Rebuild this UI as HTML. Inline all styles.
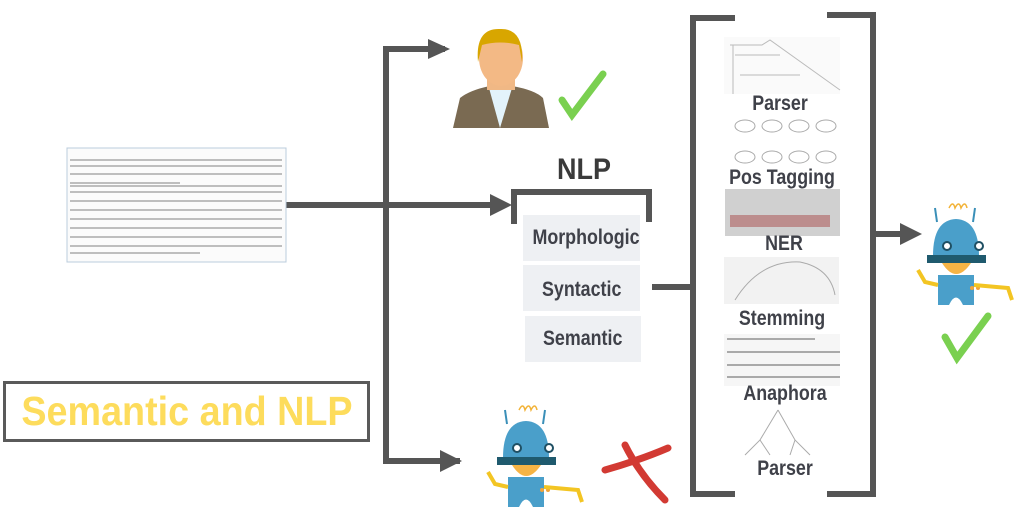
<!DOCTYPE html>
<html><head><meta charset="utf-8"><style>
body{margin:0;width:1024px;height:509px;background:#fff;position:relative;overflow:hidden;font-family:"Liberation Sans",sans-serif}
.t{position:absolute;color:#444;font-family:"Liberation Sans",sans-serif;white-space:nowrap}
.box{position:absolute;background:#eef0f3;color:#3f4149;font-size:21px;text-align:center;font-weight:bold}
.box span{display:inline-block;transform:scaleX(.85)}
.lbl{position:absolute;color:#3f4149;font-size:21px;text-align:center;width:160px;font-weight:bold;transform:scaleX(.85)}
</style></head><body>
<svg width="1024" height="509" style="position:absolute;left:0;top:0">
<g fill="none" stroke="#555" stroke-width="6">
<polyline points="445,49 386,49 386,461 460,461"/>
<line x1="286" y1="205" x2="500" y2="205"/>
<polyline points="514,224 514,192 649,192 649,222"/>
<line x1="652" y1="287" x2="692" y2="287"/>
<polyline points="735,18 693,18 693,494 735,494"/>
<polyline points="827,15 873,15 873,494 827,494"/>
<line x1="873" y1="234" x2="905" y2="234"/>
</g>
<g fill="#555">
<polygon points="428,39 450,49 428,59"/>
<polygon points="490,194 512,205 490,216"/>
<polygon points="440,450 462,461 440,472"/>
<polygon points="900,223 922,234 900,245"/>
</g>
<rect x="67" y="148" width="219" height="114" fill="#fbfbfb" stroke="#bcd" stroke-width="1"/>
<g stroke="#999" stroke-width="1.3">
<line x1="70" y1="160" x2="282" y2="160"/><line x1="70" y1="166" x2="282" y2="166"/>
<line x1="70" y1="174" x2="282" y2="174"/><line x1="70" y1="183" x2="180" y2="183"/>
<line x1="70" y1="186" x2="282" y2="186"/><line x1="70" y1="192" x2="282" y2="192"/>
<line x1="70" y1="201" x2="282" y2="201"/><line x1="70" y1="210" x2="282" y2="210"/>
<line x1="70" y1="219" x2="282" y2="219"/><line x1="70" y1="228" x2="282" y2="228"/>
<line x1="70" y1="237" x2="282" y2="237"/><line x1="70" y1="246" x2="282" y2="246"/>
<line x1="70" y1="253" x2="200" y2="253"/>
</g>
<path d="M453,128 L460,98 Q470,90 490,86 L512,86 Q535,90 543,98 L549,128 Z" fill="#7a6a52"/>
<path d="M489,88 L500,128 L512,88 Z" fill="#e3f3fb"/>
<rect x="487" y="68" width="28" height="22" fill="#f0b885"/>
<ellipse cx="501" cy="58" rx="22" ry="28" fill="#f3b985"/>
<path d="M478,62 Q475,28 500,29 Q524,28 522,62 L519,45 Q500,40 482,45 Z" fill="#d8a600"/>
<path d="M562,100 L572,115 L603,74" stroke="#7ad050" stroke-width="7" fill="none" stroke-linecap="round"/>
<g id="robot">
<path d="M935,208 L937,222 M975,208 L973,222" stroke="#3a8fb8" stroke-width="2"/>
<path d="M949,208 q4,-8 6,0 q4,-8 6,0 q4,-8 6,0" stroke="#f2b236" stroke-width="1.5" fill="none"/>
<path d="M933,256 Q933,220 956,219 Q979,220 979,256 Z" fill="#4a9fca"/>
<circle cx="947" cy="246" r="4" fill="#fff" stroke="#1f4f63" stroke-width="2"/>
<circle cx="979" cy="246" r="4" fill="#fff" stroke="#1f4f63" stroke-width="2"/>
<rect x="927" y="255" width="59" height="8" fill="#1f5a6e"/>
<path d="M942,263 Q956,285 971,263 Z" fill="#f6b445"/>
<rect x="938" y="275" width="36" height="30" fill="#4a9fca"/>
<path d="M949,305 Q956,290 963,305 Z" fill="#fff"/>
<circle cx="972" cy="288" r="2" fill="#f2a43a"/><circle cx="978" cy="288" r="2" fill="#f2a43a"/>
<path d="M938,285 L925,282 L918,270" stroke="#f3c523" stroke-width="4" fill="none"/>
<path d="M974,285 L1008,288 L1012,300" stroke="#f3c523" stroke-width="4" fill="none"/>
</g>
<g transform="translate(-430,202)"><use href="#robot"/></g>
<path d="M945,337 L957,358 L988,316" stroke="#7ad050" stroke-width="7" fill="none" stroke-linecap="round"/>
<path d="M605,470 Q640,460 668,448 M625,445 Q640,475 665,500" stroke="#d23a33" stroke-width="7" fill="none" stroke-linecap="round"/>
<rect x="724" y="37" width="116" height="57" fill="#fafafa"/>
<path d="M730,45 L762,45 L770,40 L840,90 M740,75 L800,75 M735,55 L780,55 M733,45 L733,94" stroke="#bbb" fill="none"/>
<g fill="none" stroke="#aaa"><ellipse cx="745" cy="126" rx="10" ry="6"/><ellipse cx="772" cy="126" rx="10" ry="6"/><ellipse cx="799" cy="126" rx="10" ry="6"/><ellipse cx="826" cy="126" rx="10" ry="6"/>
<ellipse cx="745" cy="157" rx="10" ry="6"/><ellipse cx="772" cy="157" rx="10" ry="6"/><ellipse cx="799" cy="157" rx="10" ry="6"/><ellipse cx="826" cy="157" rx="10" ry="6"/></g>
<rect x="725" y="189" width="115" height="47" fill="#d0d0d0"/>
<rect x="730" y="215" width="100" height="12" fill="#b47070" opacity=".7"/>
<rect x="724" y="257" width="115" height="47" fill="#f2f2f2"/>
<path d="M735,300 Q760,260 800,262 Q830,268 835,295" stroke="#aaa" fill="none"/>
<rect x="724" y="334" width="116" height="52" fill="#f6f6f6"/>
<g stroke="#aaa" stroke-width="2"><line x1="727" y1="339" x2="815" y2="339"/><line x1="727" y1="352" x2="840" y2="352"/><line x1="727" y1="365" x2="840" y2="365"/><line x1="727" y1="377" x2="840" y2="377"/></g>
<path d="M778,410 L760,440 L745,455 M778,410 L795,440 L810,455 M760,440 L770,455 M795,440 L790,455" stroke="#aaa" fill="none"/>
</svg>
<div class="t" style="left:554px;top:153px;font-size:30px;color:#3a3a3a;font-weight:bold;transform:scaleX(.9)">NLP</div>
<div class="box" style="left:523px;top:215px;width:117px;height:46px;line-height:46px"><span>Morphologic</span></div>
<div class="box" style="left:523px;top:265px;width:117px;height:46px;line-height:50px"><span>Syntactic</span></div>
<div class="box" style="left:525px;top:316px;width:116px;height:46px;line-height:46px"><span>Semantic</span></div>
<div class="lbl" style="left:700px;top:92px">Parser</div>
<div class="lbl" style="left:702px;top:166px">Pos Tagging</div>
<div class="lbl" style="left:704px;top:232px">NER</div>
<div class="lbl" style="left:702px;top:307px">Stemming</div>
<div class="lbl" style="left:705px;top:382px">Anaphora</div>
<div class="lbl" style="left:705px;top:457px">Parser</div>
<div style="position:absolute;left:3px;top:381px;width:361px;height:55px;border:3px solid #5a5a5a;color:#fddc5c;font-size:41px;line-height:55px;text-align:center;font-weight:bold;white-space:nowrap"><span style="display:inline-block;transform:scaleX(.92)">Semantic and NLP</span></div>
</body></html>
